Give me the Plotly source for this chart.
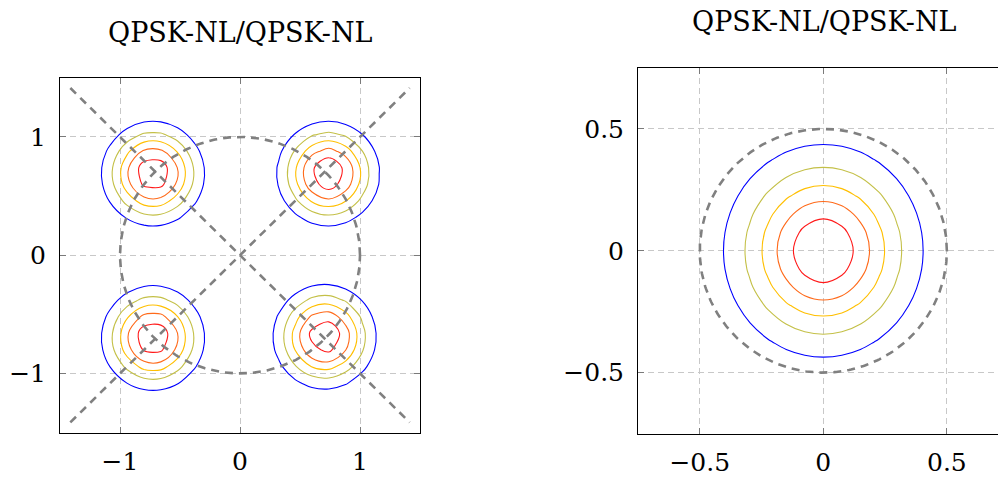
import numpy as np
import plotly.graph_objects as go

W, H = 998, 477

# ---------------- data ----------------
title_left = "QPSK-NL/QPSK-NL"
title_right = "QPSK-NL/QPSK-NL"

# left panel: four constellation blobs
left_cx = [-0.725, 0.735, -0.725, 0.705]
left_cy = [0.69, 0.69, -0.70, -0.69]
left_levels = [0.43, 0.34, 0.27, 0.208, 0.13]      # horizontal contour radii
left_vstretch = 1.03
left_ref_radius = 1.0                               # dashed unit circle
left_diag_extent = 1.414

# right panel: single blob
right_cx = [0.0]
right_cy = [0.0]
right_levels = [0.404, 0.317, 0.248, 0.187, 0.121]
right_vstretch = 1.08
right_ref_radius = 0.5

level_colors = ["#0000ff", "#c4c048", "#ffbf00", "#ff6a1a", "#ff1a1a"]

left_ticks = [-1, 0, 1]
right_ticks = [-0.5, 0, 0.5]
right_ticktext = ["−0.5", "0", "0.5"]

# ---------------- figure ----------------
fig = go.Figure()

def px_x(a, b):
    return [a / W, min(1.0, b / W)]

def px_y(top, bottom):
    return [(H - bottom) / H, (H - top) / H]

def add_contours(cx, cy, levels, vstretch, lo, hi, step, xa, ya):
    g = np.arange(lo, hi + step / 2, step)
    X, Y = np.meshgrid(g, g)
    Z = np.full(X.shape, np.inf)
    for a, b in zip(cx, cy):
        Z = np.minimum(Z, np.sqrt((X - a) ** 2 + ((Y - b) / vstretch) ** 2))
    for lv, col in zip(levels, level_colors):
        fig.add_trace(go.Contour(
            x=g, y=g, z=Z, xaxis=xa, yaxis=ya,
            contours=dict(start=lv, end=lv, size=0.01, coloring="none"),
            line=dict(color=col, width=1.1),
            showscale=False, hoverinfo="skip", showlegend=False))

def add_circle(r, xa, ya):
    t = np.linspace(0, 2 * np.pi, 361)
    fig.add_trace(go.Scatter(
        x=r * np.cos(t), y=r * np.sin(t), mode="lines", xaxis=xa, yaxis=ya,
        line=dict(color="#808080", width=2.6, dash="8px,6px"),
        hoverinfo="skip", showlegend=False))

add_contours(left_cx, left_cy, left_levels, left_vstretch, -1.5, 1.5, 0.14, "x", "y")
add_contours(right_cx, right_cy, right_levels, right_vstretch, -0.75, 0.75, 0.075, "x2", "y2")

add_circle(left_ref_radius, "x", "y")
e = left_diag_extent
for s in (1, -1):
    fig.add_trace(go.Scatter(
        x=[-e, e], y=[-s * e, s * e], mode="lines", xaxis="x", yaxis="y",
        line=dict(color="#808080", width=2.6, dash="8px,6px"),
        hoverinfo="skip", showlegend=False))
add_circle(right_ref_radius, "x2", "y2")

tickfont = dict(family="DejaVu Serif", size=25, color="black")
common = dict(showgrid=True, gridcolor="#c8c8c8", gridwidth=1, griddash="6px,4px",
              zeroline=False, showline=True, linecolor="black", linewidth=1,
              ticks="inside", ticklen=6, tickcolor="#7a7a7a", tickwidth=1,
              tickfont=tickfont, fixedrange=True)

fig.update_layout(
    width=W, height=H,
    margin=dict(l=0, r=0, t=0, b=0),
    paper_bgcolor="white", plot_bgcolor="white",
    xaxis=dict(domain=px_x(60, 420), range=[-1.5, 1.5], tickvals=left_ticks,
               mirror="allticks", anchor="y", ticklabelstandoff=6, **common),
    yaxis=dict(domain=px_y(79, 439), range=[-1.5, 1.5], tickvals=left_ticks,
               mirror="allticks", anchor="x", ticklabelstandoff=8, **common),
    xaxis2=dict(domain=px_x(638, 998), range=[-0.75, 0.707], tickvals=right_ticks,
                ticktext=right_ticktext, mirror="allticks", anchor="y2",
                ticklabelstandoff=6, **common),
    yaxis2=dict(domain=px_y(69, 440), range=[-0.75, 0.75], tickvals=right_ticks,
                ticktext=right_ticktext, mirror=False, anchor="x2",
                ticklabelstandoff=8, **common),
    annotations=[
        dict(text=title_left, x=240 / W, y=1 - 33 / H,
             xref="paper", yref="paper", xanchor="center", yanchor="middle",
             showarrow=False, font=dict(family="DejaVu Serif", size=27, color="black")),
        dict(text=title_right, x=824 / W, y=1 - 22 / H,
             xref="paper", yref="paper", xanchor="center", yanchor="middle",
             showarrow=False, font=dict(family="DejaVu Serif", size=27, color="black")),
    ],
)

fig.write_html(
    "out.html",
    config={"displayModeBar": False},
    post_script="document.body.style.margin='0';document.body.style.overflow='hidden';",
)
